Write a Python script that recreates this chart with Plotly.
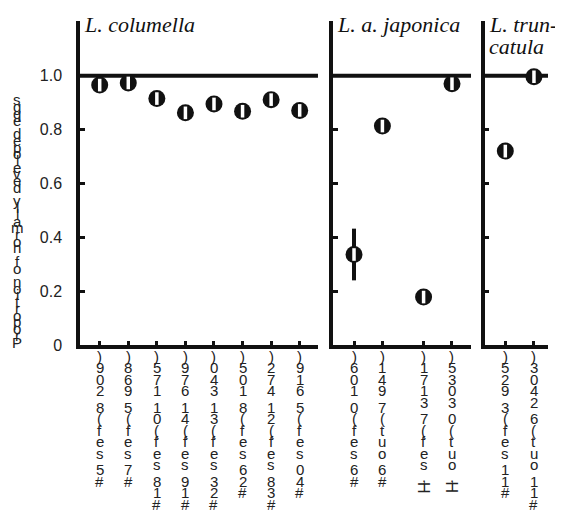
import plotly.graph_objects as go

# ---------------- data ----------------
panel_titles = ["<i>L. columella</i>", "<i>L. a. japonica</i>", "<i>L. trun-</i><br><i>catula</i>"]

columella_labels = ["#5 sef(8 209)", "#7 sef(5 968)", "#18 sef(01 175)", "#19 sef(41 679)",
                    "#23 sef(31 340)", "#26 sef(8 105)", "#38 sef(21 472)", "#40 sef(5 619)"]
columella_values = [0.965, 0.973, 0.915, 0.862, 0.895, 0.868, 0.911, 0.871]
columella_err = [0, 0, 0, 0, 0, 0, 0, 0]

japonica_labels = ["#6 sef(0 106)", "#6 out(7 941)", "H,sef(7 3171)", "H,out(0 3035)"]
japonica_values = [0.336, 0.813, 0.178, 0.970]
japonica_err = [0.096, 0, 0, 0]

truncatula_labels = ["#11 sef(3 925)", "#11 out(6 2403)"]
truncatula_values = [0.720, 0.996]
truncatula_err = [0, 0]

y_title = "Proportion of normally developed eggs"
y_tickvals = [0, 0.2, 0.4, 0.6, 0.8, 1.0]
y_ticktext = ["0", "0.2", "0.4", "0.6", "0.8", "1.0"]

# ---------------- layout helpers ----------------
W, H = 563, 527
L, R, T, B = 72, 23, 13, 190
plot_h = H - T - B
plot_w = W - L - R

def xpos(n, gap_after=None, gap=0.45):
    out, p = [], 1.0
    for i in range(n):
        out.append(p)
        p += 1.0
        if gap_after is not None and i == gap_after:
            p += gap
    return out

panels = [
    dict(labels=columella_labels, values=columella_values, err=columella_err,
         x=xpos(len(columella_labels)), rng=[0.31, 8.64], dom=[0.0, 0.5085]),
    dict(labels=japonica_labels, values=japonica_values, err=japonica_err,
         x=xpos(len(japonica_labels), gap_after=1), rng=[0.26, 5.12], dom=[0.5406, 0.8355]),
    dict(labels=truncatula_labels, values=truncatula_values, err=truncatula_err,
         x=xpos(len(truncatula_labels)), rng=[0.28, 2.49], dom=[0.8647, 1.0]),
]

fig = go.Figure()
annotations = []
shapes = []
sans = "Liberation Sans"
serif = "Liberation Serif"

for k, p in enumerate(panels, start=1):
    xa = "x" if k == 1 else f"x{k}"
    ya = "y" if k == 1 else f"y{k}"
    fig.add_trace(go.Scatter(
        x=p["x"], y=p["values"], mode="markers", xaxis=xa, yaxis=ya,
        marker=dict(symbol="circle", size=17, color="#111111", line=dict(width=0)),
        error_y=dict(type="data", array=p["err"], visible=True, color="#111111",
                     thickness=4, width=0),
        showlegend=False, hoverinfo="skip"))
    fig.add_trace(go.Scatter(
        x=p["x"], y=p["values"], mode="markers", xaxis=xa, yaxis=ya,
        marker=dict(symbol="line-ns", size=9, color="white",
                    line=dict(width=3.5, color="white")),
        showlegend=False, hoverinfo="skip"))
    shapes.append(dict(type="line", xref=f"{xa} domain", yref=ya, x0=0, x1=1, y0=1, y1=1,
                       line=dict(color="#111111", width=4), layer="below"))
    for li, line_txt in enumerate(panel_titles[k - 1].split("<br>")):
        annotations.append(dict(text=line_txt, xref=f"{xa} domain", x=0, xanchor="left",
                                xshift=2, yref="paper", y=1, yanchor="top",
                                yshift=11 - 22 * li,
                                showarrow=False, align="left",
                                font=dict(family=serif, size=22, color="#111111")))
    for xi, lab in zip(p["x"], p["labels"]):
        off = 11.0
        for ch in reversed(lab):
            if ch == " ":
                off += 5.0
                continue
            annotations.append(dict(text=ch, xref=xa, x=xi, yref="paper", y=0,
                                    yanchor="middle", yshift=-off, showarrow=False,
                                    textangle=90 if ch == "H" else 0,
                                    font=dict(family=sans, size=16 if ch == "H" else 15,
                                              color="#222222")))
            off += 11.5

    fig.update_layout(**{
        ("xaxis" if k == 1 else f"xaxis{k}"): dict(
            domain=p["dom"], range=p["rng"], showgrid=False, zeroline=False,
            showline=True, linewidth=3.5, linecolor="#111111",
            tickmode="array", tickvals=p["x"], ticks="inside", ticklen=4,
            tickwidth=3, tickcolor="#111111", showticklabels=False, anchor=ya),
        ("yaxis" if k == 1 else f"yaxis{k}"): dict(
            range=[0, 1.203], showgrid=False, zeroline=False, showline=True,
            linewidth=3.5, linecolor="#111111", tickmode="array",
            tickvals=y_tickvals, ticktext=y_ticktext, ticks="inside", ticklen=5,
            tickwidth=3, tickcolor="#111111", showticklabels=(k == 1),
            ticklabelstandoff=11,
            tickfont=dict(family=sans, size=16, color="#222222"),
            anchor=xa),
    })

n = len(y_title)
top_px, bot_px = 92.0, 334.0
step = (bot_px - top_px) / (n - 1)
for i, ch in enumerate(y_title):
    if ch == " ":
        continue
    pix = bot_px - i * step
    annotations.append(dict(text=ch, xref="paper", x=(9 - L) / plot_w, xanchor="center",
                            yref="paper", y=(H - B - pix) / plot_h, yanchor="middle",
                            showarrow=False,
                            font=dict(family=sans, size=15, color="#222222")))

fig.update_layout(width=W, height=H, margin=dict(l=L, r=R, t=T, b=B),
                  paper_bgcolor="white", plot_bgcolor="white",
                  annotations=annotations, shapes=shapes)

fig.write_html("out.html")
